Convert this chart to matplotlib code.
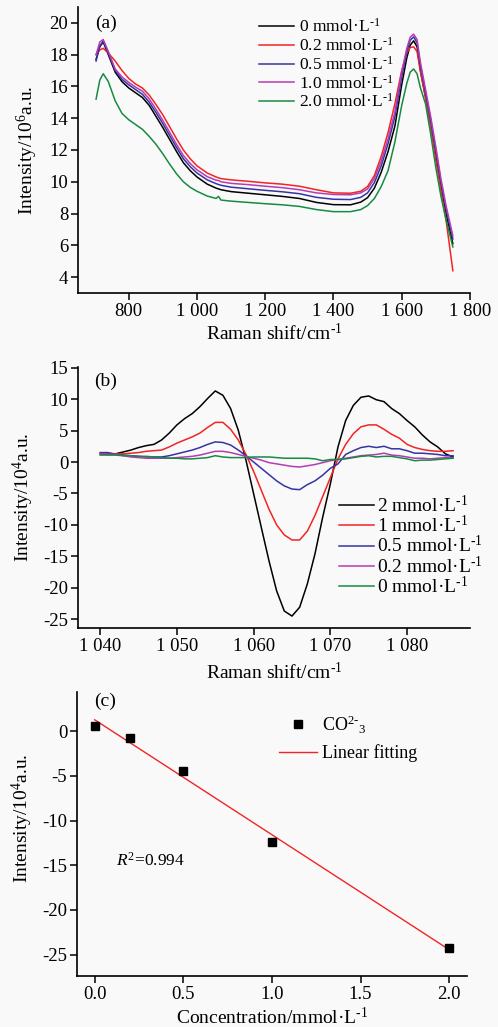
import numpy as np
import matplotlib
matplotlib.use("Agg")
import matplotlib.pyplot as plt

plt.rcParams["font.family"] = ["Liberation Serif", "DejaVu Serif"]
plt.rcParams["mathtext.fontset"] = "custom"
plt.rcParams["mathtext.rm"] = "Liberation Serif"
plt.rcParams["mathtext.it"] = "Liberation Serif:italic"
plt.rcParams["mathtext.bf"] = "Liberation Serif:bold"
plt.rcParams["axes.unicode_minus"] = False

# ===========================================================
# DATA — panel (a): Raman spectra
# ===========================================================
shift_a = [704, 715, 725, 740, 760, 780, 800, 820, 840, 860, 880, 900, 920, 940, 960,
           980, 1000, 1030, 1056, 1063, 1070, 1100, 1150, 1200, 1250, 1300, 1350, 1400,
           1450, 1480, 1500, 1520, 1540, 1560, 1580, 1600, 1615, 1625, 1635, 1645, 1655,
           1670, 1685, 1700, 1715, 1730, 1750]
spec_0 = [17.7, 18.5, 18.8, 18.0, 16.9, 16.3, 15.9, 15.6, 15.3, 14.8, 14.1, 13.4, 12.65,
          11.9, 11.2, 10.7, 10.3, 9.85, 9.6, 9.55, 9.5, 9.38, 9.28, 9.18, 9.08, 8.95, 8.7,
          8.56, 8.55, 8.72, 9.0, 9.6, 10.6, 11.9, 13.5, 16.1, 17.8, 18.6, 18.87, 18.5, 17.0,
          15.3, 13.6, 11.7, 9.7, 8.0, 6.1]
spec_02 = [18.0, 18.3, 18.4, 18.1, 17.6, 17.0, 16.5, 16.15, 15.9, 15.45, 14.85, 14.2, 13.45,
           12.7, 12.0, 11.45, 11.0, 10.55, 10.3, 10.25, 10.2, 10.12, 10.03, 9.93, 9.85, 9.72,
           9.5, 9.3, 9.28, 9.4, 9.7, 10.4, 11.6, 13.1, 14.9, 17.0, 18.1, 18.45, 18.49, 18.2,
           16.9, 15.3, 13.5, 11.4, 9.5, 7.6, 4.4]
spec_05 = [17.6, 18.55, 18.85, 18.1, 17.0, 16.45, 16.1, 15.8, 15.5, 15.0, 14.35, 13.65, 12.9,
           12.15, 11.45, 10.95, 10.55, 10.12, 9.88, 9.83, 9.78, 9.66, 9.56, 9.46, 9.37, 9.25,
           9.02, 8.9, 8.88, 9.02, 9.3, 9.95, 11.0, 12.4, 14.1, 16.6, 18.2, 18.9, 19.12, 18.75,
           17.3, 15.6, 13.9, 12.0, 10.0, 8.3, 6.4]
spec_10 = [18.0, 18.8, 18.95, 18.2, 17.1, 16.6, 16.25, 15.95, 15.7, 15.2, 14.55, 13.85, 13.1,
           12.35, 11.65, 11.15, 10.75, 10.32, 10.1, 10.08, 10.0, 9.9, 9.82, 9.72, 9.63, 9.5,
           9.3, 9.2, 9.18, 9.3, 9.55, 10.2, 11.3, 12.7, 14.4, 16.9, 18.4, 19.1, 19.29, 18.95,
           17.5, 15.8, 14.1, 12.2, 10.2, 8.5, 6.6]
spec_20 = [15.2, 16.4, 16.8, 16.3, 15.1, 14.3, 13.9, 13.6, 13.3, 12.85, 12.35, 11.75, 11.1,
           10.5, 10.0, 9.65, 9.4, 9.1, 8.95, 9.08, 8.85, 8.78, 8.7, 8.62, 8.55, 8.45, 8.25,
           8.12, 8.12, 8.25, 8.5, 8.95, 9.7, 10.7, 12.5, 14.8, 16.2, 16.9, 17.1, 16.8, 15.9,
           14.9, 13.0, 10.9, 9.1, 7.6, 5.9]
unit = " mmol·L$^{\\text{-}1}$"
labels_a = ["0" + unit, "0.2" + unit, "0.5" + unit, "1.0" + unit, "2.0" + unit]

# ===========================================================
# DATA — panel (b): difference spectra around 1 064 cm-1
# ===========================================================
shift_b = list(range(1040, 1087))
diff_2 = [1.3, 1.3, 1.3, 1.6, 1.9, 2.3, 2.6, 2.8, 3.5, 4.6, 5.9, 6.9, 7.7, 8.8, 10.1,
          11.3, 10.6, 8.5, 5.05, 0.3, -5.05, -10.4, -15.7, -20.5, -23.7, -24.5, -23.1,
          -19.4, -14.6, -8.8, -3.5, 2.4, 6.6, 9.0, 10.3, 10.5, 9.9, 9.6, 8.5, 7.7, 6.6,
          5.6, 4.3, 3.2, 2.4, 1.3, 0.8]
diff_1 = [1.4, 1.4, 1.3, 1.3, 1.4, 1.5, 1.7, 1.8, 1.9, 2.4, 3.0, 3.5, 4.0, 4.6, 5.5,
          6.3, 6.3, 5.2, 3.5, 1.2, -1.5, -4.5, -7.5, -10.0, -11.6, -12.4, -12.4, -11.0,
          -8.5, -5.5, -2.5, 0.5, 2.8, 4.5, 5.6, 5.9, 5.9, 5.2, 4.4, 3.8, 2.8, 2.3, 2.0,
          1.8, 1.7, 1.7, 1.8]
diff_05 = [1.5, 1.5, 1.2, 1.1, 1.0, 0.9, 0.8, 0.8, 0.8, 1.0, 1.3, 1.6, 1.9, 2.3, 2.8,
           3.2, 3.1, 2.7, 1.9, 1.0, 0.0, -1.0, -2.0, -3.0, -3.8, -4.3, -4.4, -3.6, -3.0,
           -2.1, -1.0, -0.3, 1.2, 1.8, 2.3, 2.5, 2.3, 2.5, 2.1, 2.1, 1.8, 1.4, 1.4, 1.3,
           1.2, 1.0, 1.0]
diff_02 = [1.3, 1.2, 1.2, 1.0, 0.8, 0.7, 0.6, 0.6, 0.6, 0.6, 0.7, 0.8, 0.9, 1.1, 1.4,
           1.7, 1.7, 1.5, 1.2, 0.9, 0.6, 0.3, -0.1, -0.3, -0.5, -0.7, -0.8, -0.6, -0.4,
           -0.1, 0.2, 0.4, 0.6, 0.8, 1.0, 1.1, 1.2, 1.4, 1.1, 1.0, 0.8, 0.6, 0.6, 0.5,
           0.6, 0.7, 0.7]
diff_0 = [1.1, 1.1, 1.1, 1.0, 1.0, 0.9, 0.9, 0.8, 0.7, 0.6, 0.6, 0.5, 0.5, 0.6, 0.7,
          1.0, 0.8, 0.7, 0.7, 0.7, 0.8, 0.8, 0.8, 0.7, 0.6, 0.6, 0.6, 0.6, 0.5, 0.2,
          0.4, 0.4, 0.5, 0.7, 0.9, 1.0, 0.8, 0.9, 0.9, 0.7, 0.5, 0.2, 0.3, 0.3, 0.4,
          0.5, 0.6]
labels_b = ["2" + unit, "1" + unit, "0.5" + unit, "0.2" + unit, "0" + unit]

# ===========================================================
# DATA — panel (c): calibration
# ===========================================================
conc = [0.0, 0.2, 0.5, 1.0, 2.0]
peak_int = [0.6, -0.7, -4.4, -12.4, -24.3]

# tick labels
xticks_a = [800, 1000, 1200, 1400, 1600, 1800]
xticklabels_a = ["800", "1 000", "1 200", "1 400", "1 600", "1 800"]
yticks_a = [4, 6, 8, 10, 12, 14, 16, 18, 20]
xticks_b = [1040, 1050, 1060, 1070, 1080]
xticklabels_b = ["1 040", "1 050", "1 060", "1 070", "1 080"]
yticks_b = [15, 10, 5, 0, -5, -10, -15, -20, -25]
xticks_c = [0.0, 0.5, 1.0, 1.5, 2.0]
yticks_c = [0, -5, -10, -15, -20, -25]

col_k = "#000000"
col_r = "#f22424"
col_b = "#3535a2"
col_m = "#b43cb4"
col_g = "#178a43"
bg = "#f9f9f9"

fig = plt.figure(figsize=(4.98, 10.27), dpi=100, facecolor=bg)
ax_a = fig.add_axes([0.1566, 0.7147, 0.787, 0.2785])
ax_b = fig.add_axes([0.1566, 0.3885, 0.787, 0.2541])
ax_c = fig.add_axes([0.1546, 0.0497, 0.783, 0.2765])

tick_fs = 13.5
for ax in (ax_a, ax_b, ax_c):
    ax.set_facecolor(bg)
    ax.spines["top"].set_visible(False)
    ax.spines["right"].set_visible(False)
    ax.spines["left"].set_linewidth(1.2)
    ax.spines["bottom"].set_linewidth(1.2)
    ax.tick_params(direction="out", length=5, width=1.1, labelsize=tick_fs, pad=2)

# ------------------------------
# (a)
# ------------------------------
lw = 1.1
for y, c, lab in zip([spec_0, spec_02, spec_05, spec_10, spec_20],
                     [col_k, col_r, col_b, col_m, col_g], labels_a):
    ax_a.plot(shift_a, y, color=c, lw=lw, label=lab)
ax_a.set_xlim(651, 1800)
ax_a.set_ylim(3, 21)
ax_a.set_xticks(xticks_a)
ax_a.set_xticklabels(xticklabels_a)
ax_a.set_yticks(yticks_a)
ax_a.set_xlabel("Raman shift/cm$^{\\text{-}1}$", fontsize=14, va="center")
ax_a.set_ylabel("Intensity/10$^{6}$a.u.", fontsize=14, va="center")
ax_a.xaxis.set_label_coords(0.5, -0.14)
ax_a.yaxis.set_label_coords(-0.13, 0.5)
ax_a.text(0.043, 0.944, "(a)", transform=ax_a.transAxes, fontsize=14, ha="left", va="center")
ax_a.legend(loc="upper left", bbox_to_anchor=(0.445, 0.985), frameon=False, fontsize=12.5,
            handlelength=2.0, handletextpad=0.3, labelspacing=0.05, borderaxespad=0)

# ------------------------------
# (b)
# ------------------------------
for y, c, lab in zip([diff_2, diff_1, diff_05, diff_02, diff_0],
                     [col_k, col_r, col_b, col_m, col_g], labels_b):
    ax_b.plot(shift_b, y, color=c, lw=lw, label=lab)
ax_b.set_xlim(1037.1, 1088.2)
ax_b.set_ylim(-26.4, 15.1)
ax_b.set_xticks(xticks_b)
ax_b.set_xticklabels(xticklabels_b)
ax_b.set_yticks(yticks_b)
ax_b.set_xlabel("Raman shift/cm$^{\\text{-}1}$", fontsize=14, va="center")
ax_b.set_ylabel("Intensity/10$^{4}$a.u.", fontsize=14, va="center")
ax_b.xaxis.set_label_coords(0.5, -0.172)
ax_b.yaxis.set_label_coords(-0.14, 0.5)
ax_b.text(0.041, 0.944, "(b)", transform=ax_b.transAxes, fontsize=14, ha="left", va="center")
ax_b.legend(loc="upper left", bbox_to_anchor=(0.645, 0.54), frameon=False, fontsize=14,
            handlelength=1.8, handletextpad=0.2, labelspacing=-0.05, borderaxespad=0)

# ------------------------------
# (c)
# ------------------------------
k, b0 = np.polyfit(conc, peak_int, 1)
fit_x = np.array([conc[0], conc[-1]])
ax_c.plot(conc, peak_int, "s", color="black", ms=6, label="CO$^{2\\text{-}}$$_{3}$", zorder=3)
ax_c.plot(fit_x, k * fit_x + b0, color=col_r, lw=1.0, label="Linear fitting")
ax_c.set_xlim(-0.1, 2.1)
ax_c.set_ylim(-27.4, 4.4)
ax_c.set_xticks(xticks_c)
ax_c.set_xticklabels([f"{v:.1f}" for v in xticks_c])
ax_c.set_yticks(yticks_c)
ax_c.set_xlabel("Concentration/mmol·L$^{\\text{-}1}$", fontsize=14, va="center")
ax_c.set_ylabel("Intensity/10$^{4}$a.u.", fontsize=14, va="center")
ax_c.xaxis.set_label_coords(0.5, -0.148)
ax_c.yaxis.set_label_coords(-0.14, 0.556)
ax_c.text(0.044, 0.968, "(c)", transform=ax_c.transAxes, fontsize=14, ha="left", va="center")
ax_c.text(0.1, 0.405, "$\\mathit{R}^{2}$=0.994", transform=ax_c.transAxes, fontsize=12.5,
          ha="left", va="center")
ax_c.legend(loc="upper left", bbox_to_anchor=(0.5, 0.95), frameon=False, fontsize=13,
            handlelength=2.1, handletextpad=0.25, labelspacing=0.5, borderaxespad=0)

fig.savefig("out.png", dpi=100, facecolor=bg)
